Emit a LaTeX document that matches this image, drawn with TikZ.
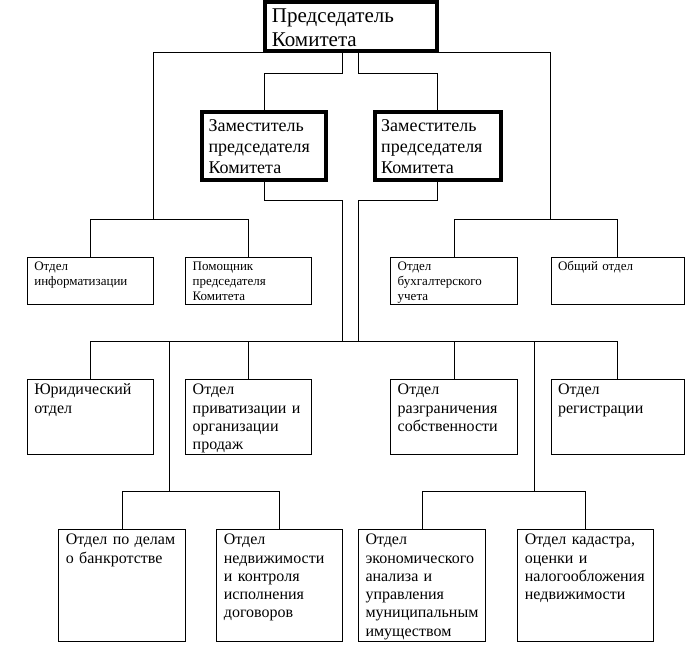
\documentclass[tikz,border=0pt]{standalone}
\usepackage{fontspec}
\setmainfont{Liberation Serif}
\begin{document}
\begin{tikzpicture}[x=1pt,y=-1pt,
  bossbox/.style={draw, line width=4pt, inner sep=0pt},
  unitbox/.style={draw, line width=1pt, inner sep=0pt},
  link/.style={line width=1pt},
  lbl/.style={inner sep=0pt, anchor=base west, align=left, text width=150pt},
  fonttop/.style={lbl, font=\fontsize{21}{24}\selectfont},
  fontdep/.style={lbl, font=\fontsize{18}{21}\selectfont},
  fontone/.style={lbl, font=\fontsize{13}{15}\selectfont},
  fonttwo/.style={lbl, font=\fontsize{16}{18.3}\selectfont}]
\useasboundingbox (0,0) rectangle (697,648);

% boxes
\node[bossbox, minimum width=172pt, minimum height=49.3pt] (top) at (351,26.7) {};
\node[bossbox, minimum width=124.3pt, minimum height=67.7pt] (dep1) at (264.2,145.9) {};
\node[bossbox, minimum width=126pt, minimum height=67.7pt] (dep2) at (437.7,145.9) {};

\node[unitbox, minimum width=126.4pt, minimum height=47pt] (info) at (90.5,280.8) {};
\node[unitbox, minimum width=126pt, minimum height=47pt] (pom) at (248.7,280.8) {};
\node[unitbox, minimum width=126.6pt, minimum height=47pt] (bux) at (454,280.8) {};
\node[unitbox, minimum width=133.3pt, minimum height=47pt] (obsh) at (617.7,280.8) {};

\node[unitbox, minimum width=126.4pt, minimum height=75pt] (jur) at (90.5,416.8) {};
\node[unitbox, minimum width=126pt, minimum height=75pt] (priv) at (248.7,416.8) {};
\node[unitbox, minimum width=126.6pt, minimum height=75pt] (raz) at (454,416.8) {};
\node[unitbox, minimum width=133.3pt, minimum height=75pt] (reg) at (617.7,416.8) {};

\node[unitbox, minimum width=127pt, minimum height=112.2pt] (bank) at (122.2,585.4) {};
\node[unitbox, minimum width=126pt, minimum height=112.2pt] (nedv) at (279.7,585.4) {};
\node[unitbox, minimum width=127.4pt, minimum height=112.2pt] (econ) at (422,585.4) {};
\node[unitbox, minimum width=135.6pt, minimum height=112.2pt] (kad) at (585.5,585.4) {};

% texts
\node[fonttop] at ([shift={(8.7,22.7)}]top.north west) {Председатель\\Комитета};
\node[fontdep] at ([shift={(8.3,21.7)}]dep1.north west) {Заместитель\\председателя\\Комитета};
\node[fontdep] at ([shift={(8.3,21.7)}]dep2.north west) {Заместитель\\председателя\\Комитета};

\node[fontone] at ([shift={(7.3,13.6)}]info.north west) {Отдел\\информатизации};
\node[fontone] at ([shift={(7.3,13.6)}]pom.north west) {Помощник\\председателя\\Комитета};
\node[fontone] at ([shift={(7.3,13.6)}]bux.north west) {Отдел\\бухгалтерского\\учета};
\node[fontone] at ([shift={(7.3,13.6)}]obsh.north west) {Общий отдел};

\node[fonttwo] at ([shift={(7.3,15.9)}]jur.north west) {Юридический\\отдел};
\node[fonttwo] at ([shift={(7.3,15.9)}]priv.north west) {Отдел\\приватизации и\\организации\\продаж};
\node[fonttwo] at ([shift={(7.3,15.9)}]raz.north west) {Отдел\\разграничения\\собственности};
\node[fonttwo] at ([shift={(7.3,15.9)}]reg.north west) {Отдел\\регистрации};

\node[fonttwo] at ([shift={(7.5,15.9)}]bank.north west) {Отдел по делам\\о банкротстве};
\node[fonttwo] at ([shift={(7.5,15.9)}]nedv.north west) {Отдел\\недвижимости\\и контроля\\исполнения\\договоров};
\node[fonttwo] at ([shift={(7.5,15.9)}]econ.north west) {Отдел\\экономического\\анализа и\\управления\\муниципальным\\имуществом};
\node[fonttwo] at ([shift={(7.5,15.9)}]kad.north west) {Отдел кадастра,\\оценки и\\налогообложения\\недвижимости};

% junction points
\coordinate (L1) at (153,52.3);
\coordinate (L2) at (153,219.3);
\coordinate (R1) at (550.5,52.3);
\coordinate (R2) at (550.5,219.3);
\coordinate (T1) at (342.7,73);
\coordinate (T2) at (358.3,73);
\coordinate (D1) at (342.7,200);
\coordinate (D2) at (358.3,200);
\coordinate (B1) at (342.7,341.7);
\coordinate (B2) at (358.3,341.7);
\coordinate (M1) at (169.3,341.7);
\coordinate (M1b) at (169.3,491.7);
\coordinate (M2) at (534.3,341.7);
\coordinate (M2b) at (534.3,491.7);

% connectors
\draw[link] (top.west |- L1) -- (L1) -- (L2);
\draw[link] (top.east |- R1) -- (R1) -- (R2);
\draw[link] (info.north) |- (L2) -| (pom.north);
\draw[link] (bux.north) |- (R2) -| (obsh.north);
\draw[link] (top.south -| T1) -- (T1) -| (dep1.north);
\draw[link] (top.south -| T2) -- (T2) -| (dep2.north);
\draw[link] (dep1.south) |- (D1) -- (B1);
\draw[link] (dep2.south) |- (D2) -- (B2);
\draw[link] (jur.north) |- (B1) -- (B2) -| (reg.north);
\draw[link] (priv.north) -- (priv.north |- B1);
\draw[link] (raz.north) -- (raz.north |- B1);
\draw[link] (M1) -- (M1b);
\draw[link] (bank.north) |- (M1b) -| (nedv.north);
\draw[link] (M2) -- (M2b);
\draw[link] (econ.north) |- (M2b) -| (kad.north);
\end{tikzpicture}
\end{document}
